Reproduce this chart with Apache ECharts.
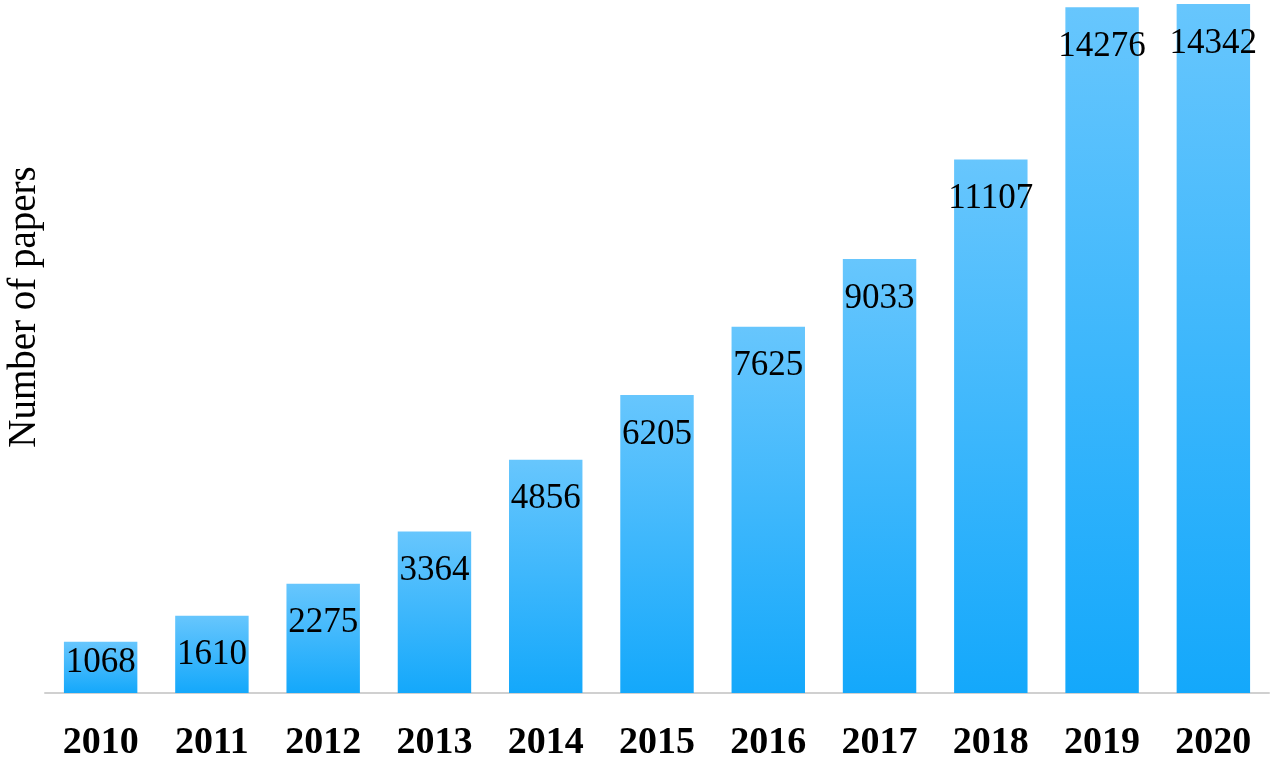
<!DOCTYPE html>
<html>
<head>
<meta charset="utf-8">
<script src="https://cdn.jsdelivr.net/npm/echarts@6/dist/echarts.min.js"></script>
<style>html,body{margin:0;padding:0;background:#fff;}#main{width:1274px;height:758px;}</style>
</head>
<body>
<div id="main"></div>
<script>
const years = ['2010','2011','2012','2013','2014','2015','2016','2017','2018','2019','2020'];
const papers = [1068, 1610, 2275, 3364, 4856, 6205, 7625, 9033, 11107, 14276, 14342];
const yTitle = 'Number of papers';

const chart = echarts.init(document.getElementById('main'));
const serif = '"Liberation Serif", "Times New Roman", serif';
const data = papers.map((v, i) => i === 0 ? {value: v, label: {distance: 4}} : v);
chart.setOption({
  animation: false,
  grid: {left: 45, right: 5, top: 4, bottom: 65, outerBoundsMode: 'none', containLabel: false},
  xAxis: {
    type: 'category',
    data: years,
    axisLine: {lineStyle: {color: '#d0d0d0', width: 2}},
    axisTick: {show: false},
    axisLabel: {fontFamily: serif, fontWeight: 'bold', fontSize: 38, color: '#000', margin: 31}
  },
  yAxis: {
    type: 'value', min: 0, max: 14342,
    show: false,
    splitLine: {show: false}
  },
  graphic: [{
    type: 'text',
    x: 25, y: 307,
    rotation: Math.PI / 2,
    style: {text: yTitle, fontFamily: serif, fontSize: 39, fill: '#000', align: 'center', verticalAlign: 'middle'}
  }],
  series: [{
    type: 'bar',
    data: data,
    barCategoryGap: '34%',
    itemStyle: {
      color: new echarts.graphic.LinearGradient(0, 0, 0, 1, [
        {offset: 0, color: '#67C6FD'},
        {offset: 1, color: '#14A8FB'}
      ])
    },
    label: {
      show: true, position: 'insideTop', distance: 22,
      fontFamily: serif, fontSize: 35, color: '#000'
    }
  }]
});
</script>
</body>
</html>
